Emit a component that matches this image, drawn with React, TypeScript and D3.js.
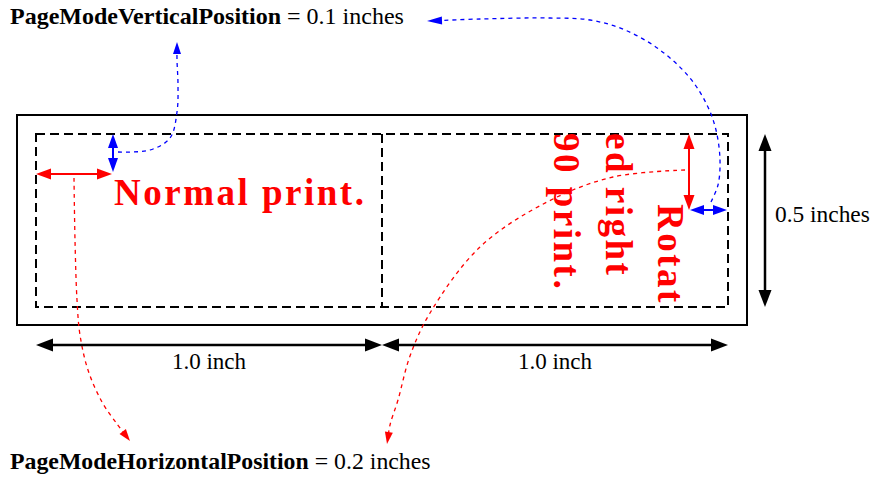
import React from "react";
import * as d3 from "d3";

// ---- data ----
const columnWidthsIn = [1.0, 1.0];
const columnLabels = ["1.0 inch", "1.0 inch"];
const paperHeightIn = [0.5];
const heightLabels = ["0.5 inches"];
const positionNames = ["PageModeVerticalPosition", "PageModeHorizontalPosition"];
const positionValues = [0.1, 0.2];
const positionUnits = ["inches", "inches"];
const normalText = "Normal print.";
const rotatedLines = ["Rotat", "ed right", "90 print."];

// callout path waypoints (diagram geometry)
const calloutVertNormal: [number, number][] = [[118, 152], [150, 150], [170, 138], [177, 112], [178, 85], [177, 60], [177, 42]];
const calloutVertRotated: [number, number][] = [[711, 202], [718, 185], [720, 160], [716, 130], [707, 105], [690, 78], [660, 50], [625, 30], [590, 20], [550, 18], [480, 19], [427, 21]];
const calloutHorzNormal: [number, number][] = [[74, 178], [75, 240], [77, 300], [80, 335], [88, 370], [102, 402], [117, 424], [130, 441]];
const calloutHorzRotated: [number, number][] = [[685, 170], [613, 177], [547, 202], [480, 247], [430, 313], [410, 356], [398, 400], [390, 425], [387, 444]];

const W = 876;
const H = 478;
const RED = "#ff0000";
const BLUE = "#0000ff";
const FONT = "'Liberation Serif', 'Times New Roman', serif";

const totalIn = d3.sum(columnWidthsIn);
const x = d3.scaleLinear().domain([0, totalIn]).range([36, 728]);
const y = d3.scaleLinear().domain([0, paperHeightIn[0]]).range([134, 307]);
const off = d3.scaleLinear().domain([0, 0.1]).range([0, 38]);

function head(tip: [number, number], from: [number, number], len: number, wid: number) {
  const a = Math.atan2(tip[1] - from[1], tip[0] - from[0]);
  const bx = tip[0] - len * Math.cos(a);
  const by = tip[1] - len * Math.sin(a);
  const px = -Math.sin(a) * wid / 2;
  const py = Math.cos(a) * wid / 2;
  return `${tip[0]},${tip[1]} ${bx + px},${by + py} ${bx - px},${by - py}`;
}

function DoubleArrow({ a, b, color, sw, len, wid }: { a: [number, number]; b: [number, number]; color: string; sw: number; len: number; wid: number }) {
  const ang = Math.atan2(b[1] - a[1], b[0] - a[0]);
  const a2: [number, number] = [a[0] + (len - 2) * Math.cos(ang), a[1] + (len - 2) * Math.sin(ang)];
  const b2: [number, number] = [b[0] - (len - 2) * Math.cos(ang), b[1] - (len - 2) * Math.sin(ang)];
  return (
    <g>
      <line x1={a2[0]} y1={a2[1]} x2={b2[0]} y2={b2[1]} stroke={color} strokeWidth={sw} />
      <polygon points={head(a, b, len, wid)} fill={color} />
      <polygon points={head(b, a, len, wid)} fill={color} />
    </g>
  );
}

const lineGen = d3.line().curve(d3.curveCatmullRom.alpha(0.5));

function Callout({ pts, color, len, wid }: { pts: [number, number][]; color: string; len: number; wid: number }) {
  const tip = pts[pts.length - 1];
  const prev = pts[pts.length - 2];
  return (
    <g>
      <path d={lineGen(pts.slice(0, -1).concat([[tip[0] - (tip[0] - prev[0]) * 0.3, tip[1] - (tip[1] - prev[1]) * 0.3]])) || ""} fill="none" stroke={color} strokeWidth={1.3} strokeDasharray="4,4" />
      <polygon points={head(tip, prev, len, wid)} fill={color} />
    </g>
  );
}

export default function App() {
  const x0 = x(0), x1 = x(columnWidthsIn[0]), x2 = x(totalIn);
  const y0 = y(0), y1 = y(paperHeightIn[0]);
  const hOff = off(positionValues[1]);
  const vOff = off(positionValues[0]);
  const rotBase = [658, 606, 554];
  return (
    <svg width={W} height={H} style={{ position: "absolute", left: 0, top: 0, background: "#fff" }} fontFamily={FONT}>
      {/* outer paper */}
      <rect x={x0 - 19} y={y0 - 19} width={x2 - x0 + 38} height={y1 - y0 + 37} fill="none" stroke="#000" strokeWidth={2} />
      {/* print areas */}
      <rect x={x0} y={y0} width={x2 - x0} height={y1 - y0} fill="none" stroke="#000" strokeWidth={2} strokeDasharray="9,5" />
      <line x1={x1} y1={y0} x2={x1} y2={y1} stroke="#000" strokeWidth={2} strokeDasharray="9,5" />

      {/* normal print */}
      <text x={x0 + hOff + 2} y={205} fill={RED} fontWeight="bold" fontSize={37} letterSpacing={2.5}>{normalText}</text>

      {/* rotated print */}
      {rotatedLines.map((t, i) => (
        <text key={i} transform={`translate(${rotBase[i]},${i === 0 ? 204 : 133}) rotate(90)`} fill={RED} fontWeight="bold" fontSize={37} letterSpacing={2.5}>{t}</text>
      ))}

      {/* callouts */}
      <Callout pts={calloutVertNormal} color={BLUE} len={12} wid={8} />
      <Callout pts={calloutVertRotated} color={BLUE} len={15} wid={8} />
      <Callout pts={calloutHorzNormal} color={RED} len={12} wid={8} />
      <Callout pts={calloutHorzRotated} color={RED} len={12} wid={8} />

      {/* position arrows normal */}
      <DoubleArrow a={[x0, y0 + 40]} b={[x0 + hOff, y0 + 40]} color={RED} sw={2} len={15} wid={11} />
      <DoubleArrow a={[x0 + hOff + 1, y0]} b={[x0 + hOff + 1, y0 + vOff]} color={BLUE} sw={2} len={14} wid={10} />
      {/* position arrows rotated */}
      <DoubleArrow a={[x2 - vOff - 1, y0]} b={[x2 - vOff - 1, y0 + hOff]} color={RED} sw={2} len={15} wid={11} />
      <DoubleArrow a={[x2 - vOff, y0 + hOff]} b={[x2 - 1, y0 + hOff]} color={BLUE} sw={2} len={14} wid={10} />

      {/* dimension arrows */}
      {columnWidthsIn.map((w, i) => {
        const start = x(d3.sum(columnWidthsIn.slice(0, i)));
        const end = x(d3.sum(columnWidthsIn.slice(0, i + 1)));
        return (
          <g key={i}>
            <DoubleArrow a={[start, 345]} b={[end, 345]} color="#000" sw={2.5} len={17} wid={13} />
            <text x={(start + end) / 2} y={369} textAnchor="middle" fontSize={23}>{columnLabels[i]}</text>
          </g>
        );
      })}
      <DoubleArrow a={[765, y0]} b={[765, y1]} color="#000" sw={2.5} len={17} wid={13} />
      <text x={775} y={222} fontSize={23.4}>{heightLabels[0]}</text>

      {/* labels */}
      <text x={10} y={24} fontSize={24}>
        <tspan fontWeight="bold">{positionNames[0]}</tspan>
        <tspan>{` = ${positionValues[0]} ${positionUnits[0]}`}</tspan>
      </text>
      <text x={10} y={469} fontSize={23.8}>
        <tspan fontWeight="bold">{positionNames[1]}</tspan>
        <tspan>{` = ${positionValues[1]} ${positionUnits[1]}`}</tspan>
      </text>
    </svg>
  );
}
